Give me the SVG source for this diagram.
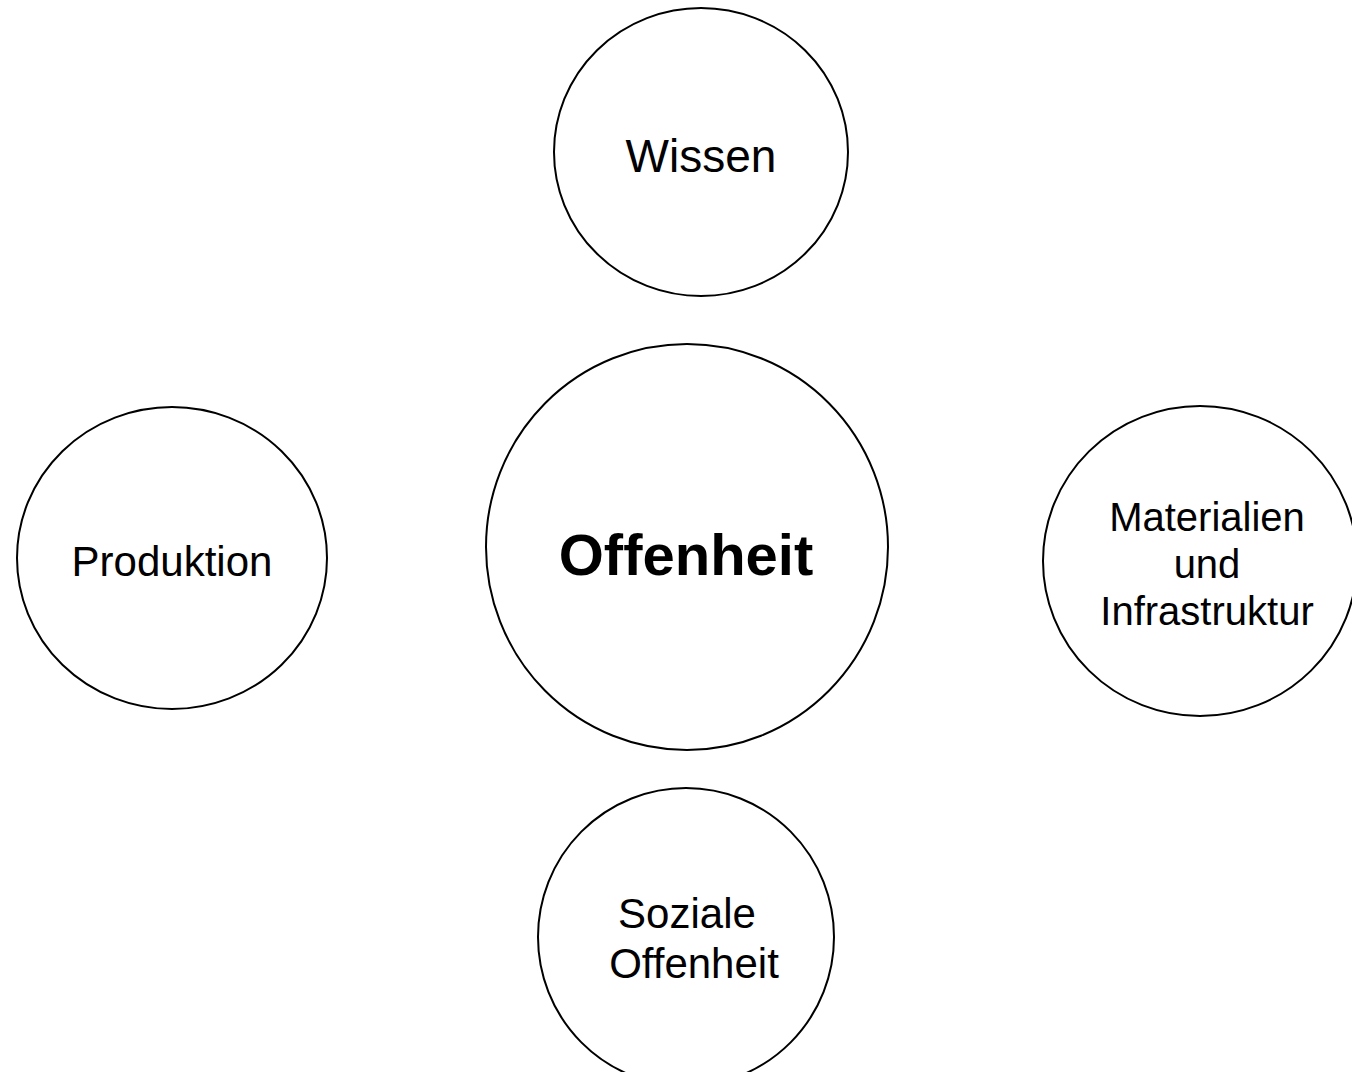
<svg xmlns="http://www.w3.org/2000/svg" width="1352" height="1072" viewBox="0 0 1352 1072">
  <style>
    .node { fill: #ffffff; stroke: #000000; stroke-width: 2; }
    .label { font-family: "Liberation Sans", Arial, sans-serif; font-size: 42px; fill: #000000; text-anchor: middle; }
    .main { font-size: 58px; font-weight: bold; }
  </style>
  <rect width="1352" height="1072" fill="#ffffff"/>

  <g id="node-wissen">
    <ellipse class="node" cx="701" cy="152" rx="147" ry="144"/>
    <text class="label" x="701" y="172" style="font-size:46px">Wissen</text>
  </g>

  <g id="node-produktion">
    <ellipse class="node" cx="172" cy="558" rx="155" ry="151"/>
    <text class="label" x="172" y="576">Produktion</text>
  </g>

  <g id="node-offenheit">
    <ellipse class="node" cx="687" cy="547" rx="201" ry="203"/>
    <text class="label main" x="686" y="575">Offenheit</text>
  </g>

  <g id="node-materialien">
    <ellipse class="node" cx="1200" cy="561" rx="157" ry="155"/>
    <text class="label" x="1207" y="531" style="font-size:40px">Materialien</text>
    <text class="label" x="1207" y="578" style="font-size:40px">und</text>
    <text class="label" x="1207" y="625" style="font-size:40px">Infrastruktur</text>
  </g>

  <g id="node-soziale">
    <ellipse class="node" cx="686" cy="937" rx="148" ry="149"/>
    <text class="label" x="687" y="928">Soziale</text>
    <text class="label" x="694" y="978">Offenheit</text>
  </g>
</svg>
